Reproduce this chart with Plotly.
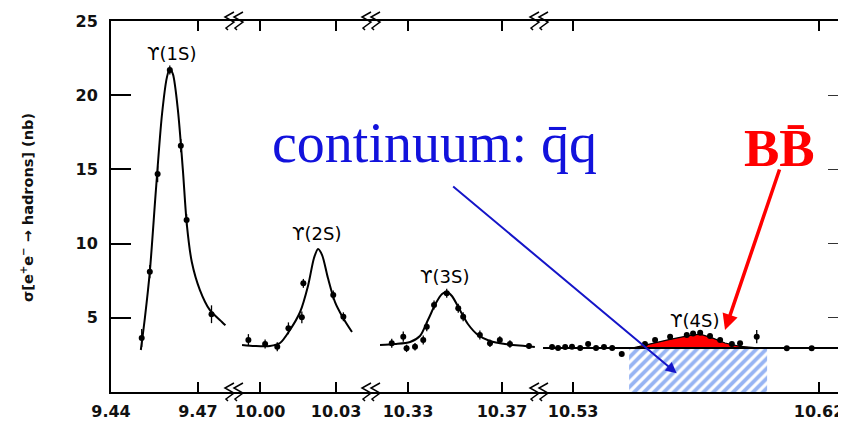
import plotly.graph_objects as go

# ---------------- data ----------------
# broken energy axis: four windows (GeV)
seg_ranges = [[9.44, 9.4828], [9.9901, 10.0442], [10.3147, 10.3862], [10.5179, 10.6295]]
seg_tickvals = [[9.44, 9.47], [10.00, 10.03], [10.33, 10.37], [10.53, 10.62]]
seg_ticktext = [["9.44", "9.47"], ["10.00", "10.03"], ["10.33", "10.37"], ["10.53", "10.62"]]
y_tickvals = [5, 10, 15, 20, 25]

# Upsilon(1S)
ups1_E = [9.4506, 9.4534, 9.4561, 9.4603, 9.4641, 9.4661, 9.4747]
ups1_sigma = [3.64, 8.11, 14.69, 21.7, 16.6, 11.59, 5.24]
ups1_err = [0.6, 0.45, 0.55, 0.3, 0.45, 0.4, 0.6]
fit1_E = [9.4503, 9.4517, 9.4534, 9.4555, 9.4576, 9.4593, 9.4603, 9.4614, 9.4631,
          9.4648, 9.4662, 9.4679, 9.4707, 9.4741, 9.4783, 9.4795]
fit1_sigma = [2.83, 5.0, 8.1, 13.6, 18.7, 21.2, 21.8, 21.4, 19.0,
              15.0, 11.25, 8.76, 6.87, 5.53, 4.72, 4.5]

# Upsilon(2S)
ups2_E = [9.9954, 10.0020, 10.0068, 10.0112, 10.0165, 10.0171, 10.0289, 10.0329]
ups2_sigma = [3.50, 3.23, 3.05, 4.29, 5.03, 7.32, 6.54, 5.07]
ups2_err = [0.4, 0.3, 0.3, 0.4, 0.4, 0.3, 0.3, 0.3]
fit2_E = [9.9929, 9.9980, 10.0039, 10.0079, 10.0118, 10.0158, 10.0190, 10.0213,
          10.0229, 10.0245, 10.0268, 10.0296, 10.0328, 10.0363]
fit2_sigma = [3.17, 3.10, 3.10, 3.30, 4.18, 5.39, 7.2, 9.03,
              9.64, 9.23, 7.68, 6.06, 4.99, 4.04]

# Upsilon(3S)
ups3_E = [10.3231, 10.3280, 10.3294, 10.3330, 10.3365, 10.3380, 10.3411, 10.3465,
          10.3514, 10.3535, 10.3606, 10.3649, 10.3691, 10.3734, 10.3815]
ups3_sigma = [3.28, 3.73, 2.94, 3.05, 3.50, 4.40, 5.86, 6.65,
              5.64, 5.07, 3.84, 3.28, 3.50, 3.23, 3.10]
ups3_err = [0.3, 0.35, 0.25, 0.25, 0.3, 0.3, 0.3, 0.3, 0.3, 0.3, 0.3, 0.25, 0.25, 0.25, 0.2]
fit3_E = [10.3181, 10.3245, 10.3309, 10.3351, 10.3385, 10.3419, 10.3445, 10.3466,
          10.3487, 10.3521, 10.3555, 10.3598, 10.3649, 10.3713, 10.3798, 10.3840]
fit3_sigma = [3.17, 3.23, 3.37, 3.77, 4.85, 5.99, 6.60, 6.74,
              6.47, 5.53, 4.58, 3.84, 3.44, 3.23, 3.10, 3.03]

# Upsilon(4S) region
ups4_E = [10.5223, 10.5245, 10.5271, 10.5296, 10.5326, 10.5355, 10.5384, 10.5413,
          10.5443, 10.5478, 10.5563, 10.5600, 10.5655, 10.5716, 10.5739, 10.5765,
          10.5801, 10.5838, 10.5881, 10.5911, 10.5972, 10.6082, 10.6173]
ups4_sigma = [3.03, 2.96, 3.03, 3.05, 2.96, 3.23, 2.96, 3.03,
              2.96, 2.56, 3.23, 3.50, 3.73, 3.84, 3.95, 4.00,
              3.77, 3.50, 3.23, 3.28, 3.73, 2.94, 2.94]
ups4_err = [0.15] * 20 + [0.45, 0.15, 0.15]
baseline_E = [10.5190, 10.6295]
baseline_sigma = [2.96, 2.96]
bb_E = [10.5516, 10.5582, 10.5655, 10.5728, 10.5765, 10.5809, 10.5856, 10.5911, 10.5984]
bb_sigma = [2.96, 3.25, 3.55, 3.82, 3.90, 3.65, 3.30, 3.08, 2.96]
cont_E = [10.5505, 10.6010]
cont_sigma = 2.96

peak_labels = ["ϒ(1S)", "ϒ(2S)", "ϒ(3S)", "ϒ(4S)"]
peak_label_E = [9.4609, 10.0224, 10.3457, 10.5746]
peak_label_sigma = [22.84, 10.71, 7.75, 4.85]

# ---------------- layout constants ----------------
# the page adds an 8px body margin, so the figure is 8px smaller than the window
W, H = 838, 413
ML, MR, MT, MB = 103, 1, 13, 29
PW, PH = W - ML - MR, H - MT - MB
seg_domains = [[0.0, 0.1689], [0.1689, 0.3556], [0.3556, 0.5845], [0.5845, 1.0]]
xnames = ["x", "x2", "x3", "x4"]


def px2paper(px, py):
    """reference-window pixel -> paper fraction of the plotting area"""
    return (px - 111) / PW, (392 - py) / PH


fig = go.Figure()

points = [(ups1_E, ups1_sigma, ups1_err), (ups2_E, ups2_sigma, ups2_err),
          (ups3_E, ups3_sigma, ups3_err), (ups4_E, ups4_sigma, ups4_err)]
fits = [(fit1_E, fit1_sigma), (fit2_E, fit2_sigma), (fit3_E, fit3_sigma)]

# continuum hatched box
fig.add_trace(go.Scatter(
    x=[cont_E[0], cont_E[1], cont_E[1], cont_E[0], cont_E[0]],
    y=[0, 0, cont_sigma, cont_sigma, 0],
    xaxis="x4", yaxis="y", mode="lines", line=dict(width=0),
    fill="toself", fillcolor="rgba(0,0,0,0)",
    fillpattern=dict(shape="/", fgcolor="#2f6ae8", bgcolor="white", size=7, solidity=0.55),
    showlegend=False, hoverinfo="skip"))

# BB-bar red excess
fig.add_trace(go.Scatter(
    x=bb_E, y=bb_sigma, xaxis="x4", yaxis="y", mode="lines",
    line=dict(color="black", width=1.2), fill="toself", fillcolor="#ff0000",
    showlegend=False, hoverinfo="skip"))

for i, (fe, fs) in enumerate(fits):
    fig.add_trace(go.Scatter(x=fe, y=fs, xaxis=xnames[i], yaxis="y", mode="lines",
                             line=dict(color="black", width=2, shape="spline", smoothing=0.8),
                             showlegend=False, hoverinfo="skip"))

fig.add_trace(go.Scatter(x=baseline_E, y=baseline_sigma, xaxis="x4", yaxis="y", mode="lines",
                         line=dict(color="black", width=2), showlegend=False, hoverinfo="skip"))

for i, (pe, ps, perr) in enumerate(points):
    fig.add_trace(go.Scatter(x=pe, y=ps, xaxis=xnames[i], yaxis="y", mode="markers",
                             marker=dict(color="black", size=6),
                             error_y=dict(type="data", array=perr, color="black", thickness=1.3, width=0),
                             showlegend=False))

# dummy trace so the right-hand frame axis is drawn
fig.add_trace(go.Scatter(x=[seg_ranges[3][0]], y=[0], xaxis="x4", yaxis="y2", mode="markers",
                         marker=dict(opacity=0), showlegend=False, hoverinfo="skip"))

tickfont = dict(family="DejaVu Sans", size=16, color="#111", weight="bold")
layout = dict(
    width=W, height=H, margin=dict(l=ML, r=MR, t=MT, b=MB, autoexpand=False),
    paper_bgcolor="white", plot_bgcolor="white", showlegend=False,
    yaxis=dict(range=[0, 25], tickvals=y_tickvals, ticks="inside", ticklen=20, tickwidth=1.5,
               tickcolor="black", showline=True, linecolor="black", linewidth=2,
               showgrid=False, zeroline=False, tickfont=tickfont, ticklabelstandoff=8,
               anchor="x", domain=[0, 1], automargin=False),
    yaxis2=dict(range=[0, 25], tickvals=y_tickvals, ticks="inside", ticklen=17, tickwidth=1.2,
                tickcolor="#333", showline=True, linecolor="#444", linewidth=1.2,
                showticklabels=False, showgrid=False, zeroline=False,
                overlaying="y", side="right", anchor="x4", automargin=False),
)
for i in range(4):
    key = "xaxis" if i == 0 else f"xaxis{i + 1}"
    layout[key] = dict(range=seg_ranges[i], domain=seg_domains[i], anchor="y",
                       tickvals=seg_tickvals[i], ticktext=seg_ticktext[i],
                       ticks="inside", ticklen=10, tickwidth=1.5, tickcolor="black",
                       showline=True, linecolor="black", linewidth=1.5, mirror="ticks",
                       showgrid=False, zeroline=False, tickfont=tickfont, ticklabelstandoff=4,
                       automargin=False)
fig.update_layout(**layout)

annotations = []
for i in range(4):
    annotations.append(dict(x=peak_label_E[i], y=peak_label_sigma[i], xref=xnames[i], yref="y",
                            text=peak_labels[i], showarrow=False,
                            font=dict(family="DejaVu Sans", size=18, color="black")))

# y-axis title
tx, ty = px2paper(27, 208)
annotations.append(dict(x=tx, y=ty, xref="paper", yref="paper",
                        text="σ[e<sup>+</sup>e<sup>−</sup> → hadrons] (nb)", textangle=-90,
                        showarrow=False, xanchor="center", yanchor="middle",
                        font=dict(family="DejaVu Sans", size=14.5, color="#111", weight="bold")))

cx_, cy_ = px2paper(434, 110)
annotations.append(dict(x=cx_, y=cy_, xref="paper", yref="paper",
                        text="continuum: q\u0304q", showarrow=False,
                        font=dict(family="Liberation Serif", size=56, color="#1212dc")))
bx_, by_ = px2paper(817, 148)
annotations.append(dict(x=bx_, y=by_, xref="paper", yref="paper",
                        text="<b>BB\u0304</b>", showarrow=False,
                        font=dict(family="Liberation Serif", size=53, color="#ff0000")))

# arrows
annotations.append(dict(x=10.5679, y=1.26, xref="x4", yref="y", text="", showarrow=True,
                        ax=-225, ay=-188, arrowhead=2, arrowsize=1.1, arrowwidth=2,
                        arrowcolor="#1515c8"))
annotations.append(dict(x=10.5856, y=4.18, xref="x4", yref="y", text="", showarrow=True,
                        ax=55, ay=-162, arrowhead=2, arrowsize=0.9, arrowwidth=3.5,
                        arrowcolor="#ff0000"))
fig.update_layout(annotations=annotations)

# axis-break squiggles at the window boundaries (top and bottom)
shapes = []
for d in seg_domains[1:]:
    bx = d[0]
    for fy in (0.0, 1.0):
        for off in (-6, 3):
            cx = bx + off / PW
            pts = [(5, 9), (-4, 4), (5, -1), (-3, -7), (-1, -9)]
            path = "M " + " L ".join(f"{cx + dx / PW:.5f},{fy + dy / PH:.5f}" for dx, dy in pts)
            shapes.append(dict(type="path", path=path, xref="paper", yref="paper",
                               line=dict(color="black", width=1.5)))
fig.update_layout(shapes=shapes)

fig.write_html("out.html")
